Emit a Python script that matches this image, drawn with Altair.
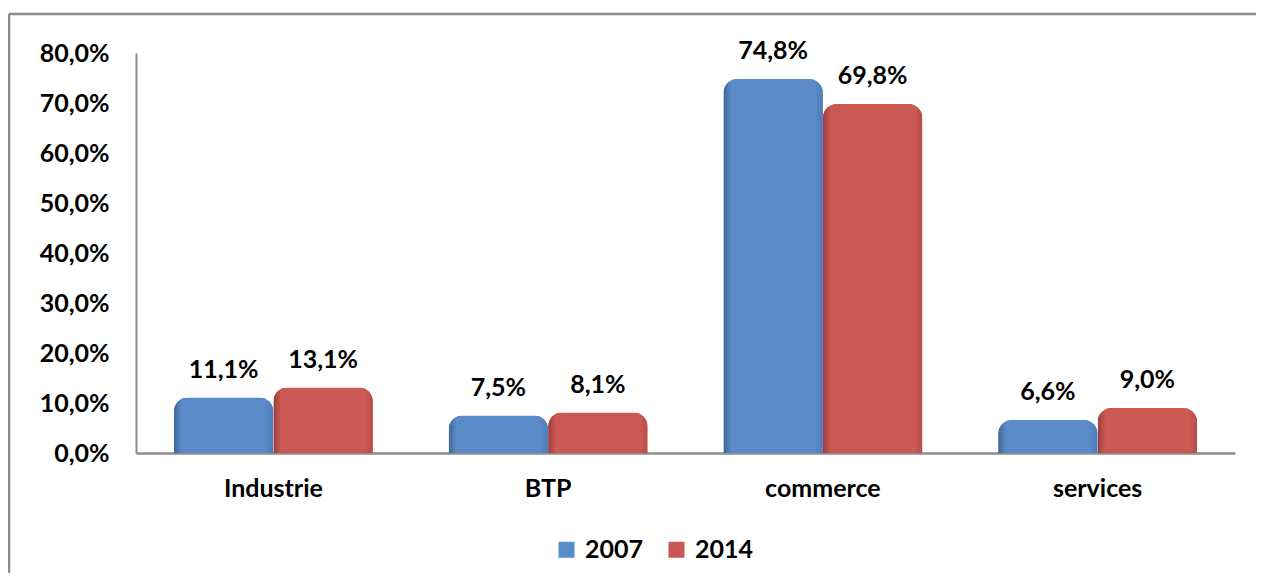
import altair as alt
import pandas as pd

categories = ["Industrie", "BTP", "commerce", "services"]
years = ["2007", "2014"]
v2007 = [11.1, 7.5, 74.8, 6.6]
v2014 = [13.1, 8.1, 69.8, 9.0]
y_ticks = [0, 10, 20, 30, 40, 50, 60, 70, 80]
colors = ["#588BC9", "#CB5753"]

rows = []
for c, a, b in zip(categories, v2007, v2014):
    rows.append({"cat": c, "year": "2007", "value": a})
    rows.append({"cat": c, "year": "2014", "value": b})
df = pd.DataFrame(rows)

FONT = "Lato"
FS = 25
FMT = "replace(format(datum.value, '.1f'), '.', ',') + '%'"

base = alt.Chart(df).transform_calculate(label=FMT).encode(
    x=alt.X("cat:N", sort=categories, title=None,
            scale=alt.Scale(paddingInner=0.276, paddingOuter=0.138),
            axis=alt.Axis(labelAngle=0, labelFont=FONT, labelFontSize=FS,
                          labelFontWeight="bold", labelColor="#000000",
                          labelPadding=23, ticks=False, domainColor="#8c8c8c",
                          domainWidth=2.5, labelBaseline="top")),
    xOffset=alt.XOffset("year:N", sort=years, scale=alt.Scale(paddingInner=0, paddingOuter=0)),
    y=alt.Y("value:Q", title=None,
            scale=alt.Scale(domain=[0, 80], nice=False),
            axis=alt.Axis(values=y_ticks, labelExpr=FMT, grid=False, ticks=False,
                          labelFont=FONT, labelFontSize=FS, labelFontWeight="bold",
                          labelColor="#000000", labelPadding=27,
                          domainColor="#8c8c8c", domainWidth=2)),
)

bars = base.mark_bar(cornerRadiusTopLeft=14, cornerRadiusTopRight=14).encode(
    color=alt.Color("year:N", sort=years, title=None,
                    scale=alt.Scale(domain=years, range=colors),
                    legend=alt.Legend(orient="none", legendX=418, legendY=484,
                                      direction="horizontal", symbolType="square",
                                      symbolSize=256, symbolStrokeWidth=0,
                                      labelFont=FONT, labelFontSize=FS,
                                      labelFontWeight="bold", labelColor="#000000",
                                      labelOffset=6, columnPadding=20))
)


def shade(year, edge_l, main, edge_r):
    grad = alt.Gradient(
        gradient="linear", x1=0, x2=1, y1=0, y2=0,
        stops=[alt.GradientStop(color=edge_l, offset=0),
               alt.GradientStop(color=main, offset=0.08),
               alt.GradientStop(color=main, offset=0.92),
               alt.GradientStop(color=edge_r, offset=1)])
    return base.transform_filter(alt.datum.year == year).mark_bar(
        cornerRadiusTopLeft=14, cornerRadiusTopRight=14, color=grad)


shade07 = shade("2007", "#3E6799", "#5A8BC8", "#4E7DB6")
shade14 = shade("2014", "#9A3E3B", "#CD5955", "#B84D49")

labels = base.mark_text(font=FONT, fontSize=FS, fontWeight="bold", color="#000000",
                        baseline="middle", dy=-28).encode(text="label:N")

frame_df = pd.DataFrame({"k": [0]})
top_border = alt.Chart(frame_df).mark_rule(color="#8c8c8c", strokeWidth=2.5).encode(
    x=alt.value(-127), x2=alt.value(1120), y=alt.value(-39), y2=alt.value(-39))
left_border = alt.Chart(frame_df).mark_rule(color="#8c8c8c", strokeWidth=2.5).encode(
    x=alt.value(-127), x2=alt.value(-127), y=alt.value(-39), y2=alt.value(520))

chart = alt.layer(top_border, left_border, bars, shade07, shade14, labels).properties(
    width=1099, height=400,
    autosize=alt.AutoSizeParams(type="none"),
    padding={"left": 128, "top": 45, "right": 21, "bottom": 123},
).configure_view(stroke=None)

chart.save("out.html", embed_options={"renderer": "svg", "actions": False})
